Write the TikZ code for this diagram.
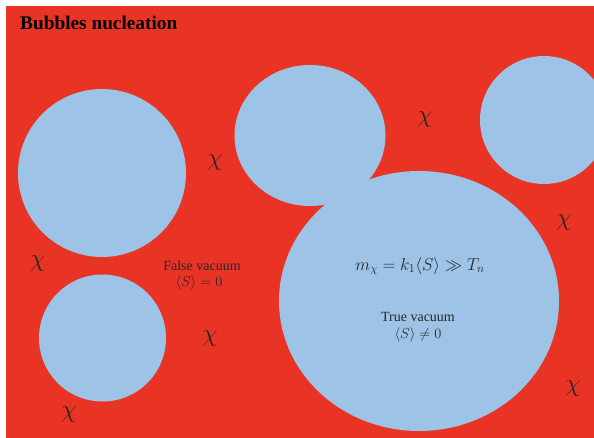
\documentclass[tikz,border=0pt]{standalone}
\usepackage{fontspec}
\setmainfont{Liberation Serif}
\definecolor{bgred}{RGB}{233,51,36}
\definecolor{bubble}{RGB}{157,195,230}
\definecolor{txtgray}{RGB}{40,40,40}
\begin{document}
\begin{tikzpicture}[x=1pt,y=-1pt,
  bubblefill/.style={fill=bubble,draw=none},
  chilabel/.style={inner sep=0pt,font=\fontsize{32}{36}\selectfont,text=black!85},
  plainlabel/.style={inner sep=0pt,align=center,font=\fontsize{14}{15}\selectfont,text=txtgray},
  lineone/.style={plainlabel,text height=9pt,text depth=1pt},
  linetwo/.style={plainlabel,text height=9pt,text depth=2.5pt},
  titlelabel/.style={inner sep=0pt,anchor=base west,font=\fontsize{19.3}{22}\selectfont\bfseries,text=black}]
\useasboundingbox (0,0) rectangle (594,438);
\fill[white] (0,0) rectangle (594,438);
\fill[bgred] (6,6) rectangle (594,438);
\begin{scope}
\clip (6,6) rectangle (594,438);
\fill[bubblefill] (102,173) circle[radius=84];
\fill[bubblefill] (102.5,338) circle[radius=63.5];
\fill[bubblefill] (310,135.5) ellipse[x radius=75.5,y radius=70.5];
\fill[bubblefill] (544,120) circle[radius=64];
\fill[bubblefill] (419,301) ellipse[x radius=140,y radius=130];
\end{scope}
\node[titlelabel] (title) at (20,30) {Bubbles nucleation};
\node[lineone] (false1) at (202,266) {False vacuum};
\node[linetwo] (false2) at (199,283) {$\langle S\rangle = 0$};
\node[plainlabel,font=\fontsize{16.5}{18}\selectfont] (mass) at (420,266) {$m_\chi = k_1\langle S\rangle \gg T_n$};
\node[lineone] (true1) at (418,317.5) {True vacuum};
\node[linetwo] (true2) at (418,335) {$\langle S\rangle \neq 0$};
\node[chilabel] (c1) at (215,163) {$\chi$};
\node[chilabel] (c2) at (38,264) {$\chi$};
\node[chilabel] (c3) at (210,339) {$\chi$};
\node[chilabel] (c4) at (69,415) {$\chi$};
\node[chilabel] (c5) at (425,120) {$\chi$};
\node[chilabel] (c6) at (564,223) {$\chi$};
\node[chilabel] (c7) at (573,389) {$\chi$};
\end{tikzpicture}
\end{document}
